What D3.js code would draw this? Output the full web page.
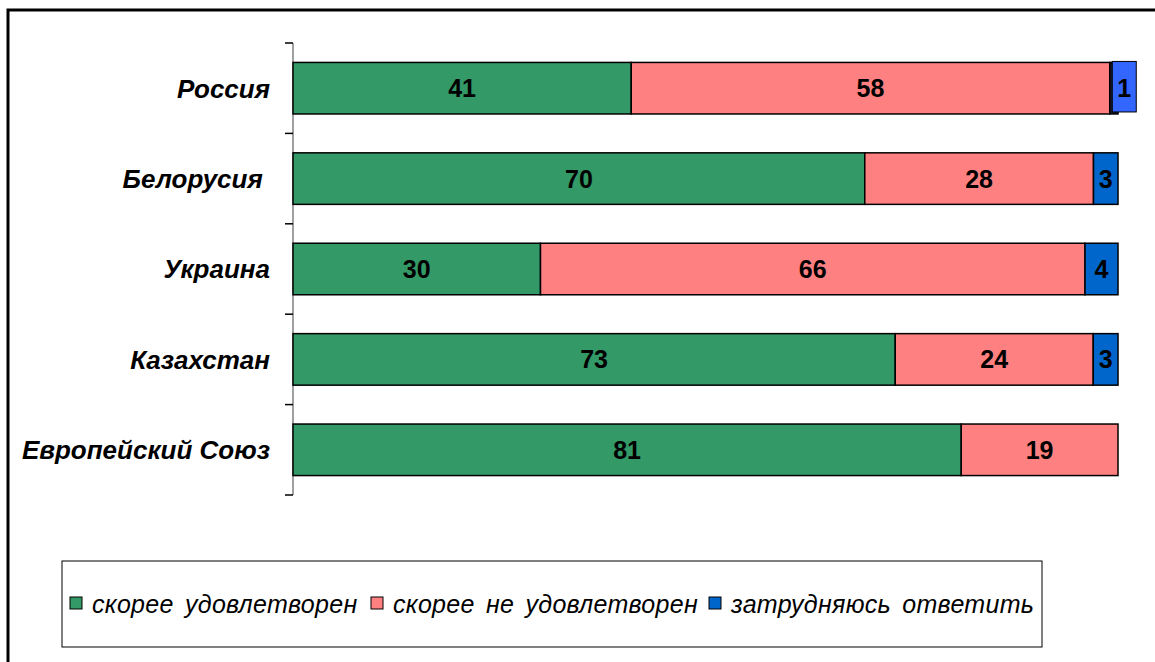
<!DOCTYPE html>
<html>
<head>
<meta charset="utf-8">
<script src="https://cdn.jsdelivr.net/npm/d3@7"></script>
<style>
    body { margin: 0; background: #ffffff; }
    text { font-family: "Liberation Sans", Arial, sans-serif; }
</style>
</head>
<body>
<div id="chart"></div>
<script>
// Data
var countries = ["Россия", "Белорусия ", "Украина", "Казахстан", "Европейский Союз"];
var satisfied = [41, 70, 30, 73, 81];
var notSatisfied = [58, 28, 66, 24, 19];
var hardToSay = [1, 3, 4, 3, 0];
var seriesNames = ["скорее удовлетворен", "скорее не удовлетворен", "затрудняюсь ответить"];
var seriesColors = ["#339966", "#ff8080", "#0066cc"];

var width = 1155, height = 662;

var svg = d3.select("#chart")
    .append("svg")
    .attr("width", width)
    .attr("height", height);

// outer frame (right and bottom edges run off the picture)
svg.append("path")
    .attr("d", "M8,680 L8,10 L1170,10")
    .attr("fill", "none")
    .attr("stroke", "#000")
    .attr("stroke-width", 3);

// build rows, normalised to 100%
var rows = countries.map(function (c, i) {
    var vals = [satisfied[i], notSatisfied[i], hardToSay[i]];
    var total = d3.sum(vals);
    var x0 = 0;
    var segs = vals.map(function (v, k) {
        var s = {k: k, v: v, x0: x0, x1: x0 + v / total * 100};
        x0 = s.x1;
        return s;
    });
    return {name: c, segs: segs, idx: i};
});

var x = d3.scaleLinear().domain([0, 100]).range([293, 1118]);
var y = d3.scaleBand().domain(countries).range([43, 495]).paddingInner(0.43).paddingOuter(0.215);

// category axis
var axis = svg.append("g")
    .attr("transform", "translate(293,0)");
axis.append("line")
    .attr("y1", 43).attr("y2", 495)
    .attr("stroke", "#808080").attr("stroke-width", 1.5);
var tickYs = countries.map(function (c) { return y(c) - y.step() * y.paddingInner() / 2; });
tickYs.push(495);
axis.selectAll("line.tick")
    .data(tickYs)
    .join("line")
    .attr("class", "tick")
    .attr("x1", -8).attr("x2", 0)
    .attr("y1", function (d) { return d; })
    .attr("y2", function (d) { return d; })
    .attr("stroke", "#000").attr("stroke-width", 1.5);

svg.append("g").selectAll("text")
    .data(countries)
    .join("text")
    .attr("x", 270)
    .attr("y", function (d) { return y(d) + y.bandwidth() / 2; })
    .attr("dy", "0.36em")
    .attr("text-anchor", "end")
    .style("white-space", "pre")
    .attr("font-size", 26)
    .attr("font-weight", "bold")
    .attr("font-style", "italic")
    .text(function (d) { return d; });

// bars
var rowG = svg.append("g").selectAll("g")
    .data(rows)
    .join("g")
    .attr("transform", function (d) { return "translate(0," + y(d.name) + ")"; });

rowG.selectAll("rect")
    .data(function (d) { return d.segs.filter(function (s) { return s.v > 0; }); })
    .join("rect")
    .attr("x", function (s) { return x(s.x0); })
    .attr("width", function (s) { return x(s.x1) - x(s.x0); })
    .attr("height", y.bandwidth())
    .attr("fill", function (s) { return (s.k === 2 && s.v === 1) ? "#1a1a33" : seriesColors[s.k]; })
    .attr("stroke", "#000")
    .attr("stroke-width", 1.5);

// value labels (the Russia "1" sits in a shifted box)
rowG.each(function (d) {
    var g = d3.select(this);
    d.segs.forEach(function (s) {
        if (s.v <= 0) return;
        var cx = (x(s.x0) + x(s.x1)) / 2;
        if (s.k === 2 && s.v === 1) {
            g.append("rect")
                .attr("x", x(s.x0) + 2.5)
                .attr("y", -1)
                .attr("width", 24)
                .attr("height", y.bandwidth() - 1)
                .attr("fill", "#3366ff")
                .attr("stroke", "#000")
                .attr("stroke-width", 1);
            cx = x(s.x0) + 14.5;
        }
        g.append("text")
            .attr("x", cx)
            .attr("y", y.bandwidth() / 2)
            .attr("dy", "0.36em")
            .attr("text-anchor", "middle")
            .attr("font-size", 25)
            .attr("font-weight", "bold")
            .text(s.v);
    });
});

// legend
var legend = svg.append("g");
legend.append("rect")
    .attr("x", 62).attr("y", 561)
    .attr("width", 980).attr("height", 86)
    .attr("fill", "#fff")
    .attr("stroke", "#000")
    .attr("stroke-width", 1);

var legX = [70, 371, 709];
seriesNames.forEach(function (n, i) {
    legend.append("rect")
        .attr("x", legX[i]).attr("y", 597)
        .attr("width", 12).attr("height", 12)
        .attr("fill", seriesColors[i])
        .attr("stroke", "#000")
        .attr("stroke-width", 1);
    legend.append("text")
        .attr("x", legX[i] + 22)
        .attr("y", 604)
        .attr("dy", "0.36em")
        .attr("font-size", 25)
        .attr("font-style", "italic")
        .attr("word-spacing", 4)
        .attr("letter-spacing", 0.3)
        .text(n);
});
</script>
</body>
</html>
